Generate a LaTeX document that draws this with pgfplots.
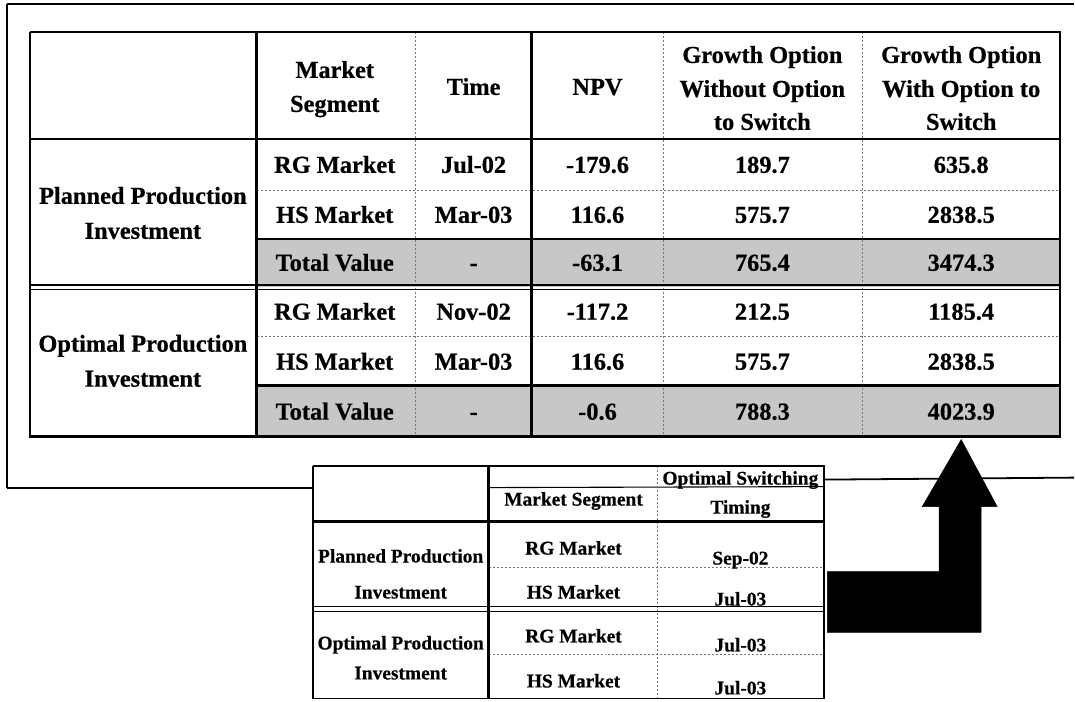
\documentclass[border=0pt]{standalone}
\usepackage{fontspec}
\setmainfont{Liberation Serif}
\newfontfamily\heavy{Liberation Serif Bold}[FakeBold=0.5]
\usepackage{pgfplots}
\pgfplotsset{compat=1.18}
\tikzset{
  thk/.style={black, line width=2.6bp, mark=none},
  med/.style={black, line width=1.8bp, mark=none},
  thn/.style={black, line width=1.1bp, mark=none},
  dsh/.style={black!55, line width=0.8bp, dash pattern=on 2bp off 2bp, mark=none},
  big/.style={font=\fontsize{24.5}{28}\selectfont\heavy, anchor=base, inner sep=0pt},
  sml/.style={font=\fontsize{19.5}{23}\selectfont\heavy, anchor=base, inner sep=0pt},
}
\begin{document}
\begin{tikzpicture}
\begin{axis}[
  width=1075bp, height=702bp, scale only axis,
  xmin=0, xmax=1075, ymin=0, ymax=702, y dir=reverse,
  axis lines=none, xtick=\empty, ytick=\empty, clip=false,
]
\path (axis cs:0,0) rectangle (axis cs:1075,702);
% ---- shaded total rows
\addplot[fill=black!22, draw=none] coordinates {(257,239) (1061,239) (1061,287) (257,287)} -- cycle;
\addplot[fill=black!22, draw=none] coordinates {(257,386) (1061,386) (1061,437) (257,437)} -- cycle;
% ---- outer frame
\addplot[med] coordinates {(7,4) (1075,4)};
\addplot[med] coordinates {(7,4) (7,488)};
\addplot[med] coordinates {(7,488) (313,488)};
\addplot[thn] coordinates {(489,488) (825,487)};
\addplot[med] coordinates {(825,480) (1075,478)};
% ---- main table dashed lines
\addplot[dsh] coordinates {(416,32) (416,437)};
\addplot[dsh] coordinates {(664,32) (664,437)};
\addplot[dsh] coordinates {(863,32) (863,437)};
\addplot[dsh] coordinates {(257,191) (1061,191)};
\addplot[dsh] coordinates {(257,337) (1061,337)};
% ---- main table solid lines
\addplot[thk] coordinates {(30,32) (1061,32) (1061,437) (30,437) (30,32)};
\addplot[thk] coordinates {(257,32) (257,437)};
\addplot[thk] coordinates {(532,32) (532,437)};
\addplot[thk] coordinates {(30,139) (1061,139)};
\addplot[thk] coordinates {(257,239) (1061,239)};
\addplot[med] coordinates {(30,285) (1061,285)};
\addplot[thn] coordinates {(30,290) (1061,290)};
\addplot[thk] coordinates {(257,386) (1061,386)};
% ---- lower table
\addplot[dsh] coordinates {(658,466) (658,699)};
\addplot[dsh] coordinates {(489,568) (825,568)};
\addplot[dsh] coordinates {(489,655) (825,655)};
\addplot[med] coordinates {(313,466) (825,466) (825,699) (313,699) (313,466)};
\addplot[thk] coordinates {(489,466) (489,699)};
\addplot[thk] coordinates {(313,522) (825,522)};
\addplot[med] coordinates {(313,607) (825,607)};
\addplot[thn] coordinates {(313,612) (825,612)};
% ---- arrow
\addplot[fill=black, draw=black, line width=0.5bp] coordinates {(962,440) (998,507) (982,507) (982,633) (828,633) (828,572) (940,572) (940,507) (923,507)} -- cycle;
% ---- main table text
\node[big] at (axis cs:335,78) {Market};
\node[big] at (axis cs:335,112) {Segment};
\node[big] at (axis cs:474,95) {Time};
\node[big] at (axis cs:598,95) {NPV};
\node[big] at (axis cs:763,63) {Growth Option};
\node[big] at (axis cs:763,97) {Without Option};
\node[big] at (axis cs:763,130) {to Switch};
\node[big] at (axis cs:962,63) {Growth Option};
\node[big] at (axis cs:962,97) {With Option to};
\node[big] at (axis cs:962,130) {Switch};
\node[big] at (axis cs:143,204) {Planned Production};
\node[big] at (axis cs:143,239) {Investment};
\node[big] at (axis cs:143,352) {Optimal Production};
\node[big] at (axis cs:143,387) {Investment};
% rows
\node[big] at (axis cs:335,173) {RG Market};
\node[big] at (axis cs:474,173) {Jul-02};
\node[big] at (axis cs:598,173) {-179.6};
\node[big] at (axis cs:763,173) {189.7};
\node[big] at (axis cs:962,173) {635.8};
\node[big] at (axis cs:335,223) {HS Market};
\node[big] at (axis cs:474,223) {Mar-03};
\node[big] at (axis cs:598,223) {116.6};
\node[big] at (axis cs:763,223) {575.7};
\node[big] at (axis cs:962,223) {2838.5};
\node[big] at (axis cs:335,271) {Total Value};
\node[big] at (axis cs:474,271) {-};
\node[big] at (axis cs:598,271) {-63.1};
\node[big] at (axis cs:763,271) {765.4};
\node[big] at (axis cs:962,271) {3474.3};
\node[big] at (axis cs:335,320) {RG Market};
\node[big] at (axis cs:474,320) {Nov-02};
\node[big] at (axis cs:598,320) {-117.2};
\node[big] at (axis cs:763,320) {212.5};
\node[big] at (axis cs:962,320) {1185.4};
\node[big] at (axis cs:335,370) {HS Market};
\node[big] at (axis cs:474,370) {Mar-03};
\node[big] at (axis cs:598,370) {116.6};
\node[big] at (axis cs:763,370) {575.7};
\node[big] at (axis cs:962,370) {2838.5};
\node[big] at (axis cs:335,420) {Total Value};
\node[big] at (axis cs:474,420) {-};
\node[big] at (axis cs:598,420) {-0.6};
\node[big] at (axis cs:763,420) {788.3};
\node[big] at (axis cs:962,420) {4023.9};
% ---- lower table text
\node[sml] at (axis cs:574,506) {Market Segment};
\node[sml] at (axis cs:741,485) {Optimal Switching};
\node[sml] at (axis cs:741,514) {Timing};
\node[sml] at (axis cs:401,563) {Planned Production};
\node[sml] at (axis cs:401,599) {Investment};
\node[sml] at (axis cs:401,650) {Optimal Production};
\node[sml] at (axis cs:401,680) {Investment};
\node[sml] at (axis cs:574,555) {RG Market};
\node[sml] at (axis cs:574,599) {HS Market};
\node[sml] at (axis cs:574,643) {RG Market};
\node[sml] at (axis cs:574,688) {HS Market};
\node[sml] at (axis cs:741,565) {Sep-02};
\node[sml] at (axis cs:741,606) {Jul-03};
\node[sml] at (axis cs:741,652) {Jul-03};
\node[sml] at (axis cs:741,695) {Jul-03};
\end{axis}
\end{tikzpicture}
\end{document}
